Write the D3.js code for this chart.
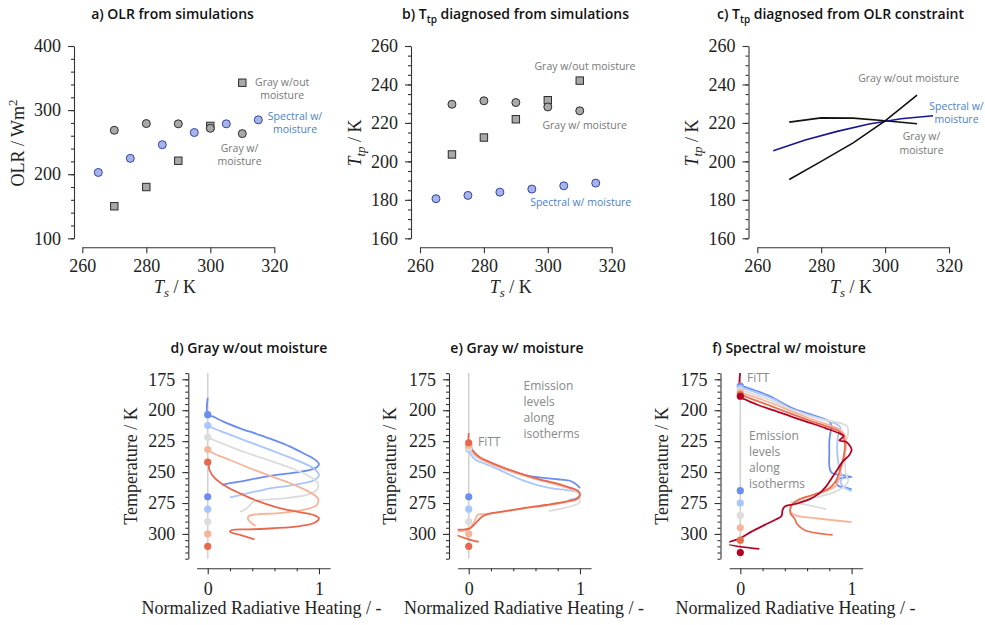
<!DOCTYPE html>
<html>
<head>
<meta charset="utf-8">
<script src="https://cdn.jsdelivr.net/npm/d3@7/dist/d3.min.js"></script>
<style>
  body { margin: 0; background: #fff; }
  svg { display: block; background: #fff; }
  .tick text { font-family: "Liberation Serif", serif; font-size: 18px; fill: #222; }
  .tick line, .domain { stroke: #333; stroke-width: 1.1; }
  .title { font-family: "Open Sans", sans-serif; font-weight: 600; font-size: 14px; fill: #111; }
  .axlab { font-family: "Liberation Serif", serif; font-size: 18px; fill: #222; }
  .note { font-family: "Open Sans", sans-serif; font-size: 10.5px; fill: #777; }
  .note2 { font-family: "Open Sans", sans-serif; font-size: 12px; fill: #888; }
</style>
</head>
<body>
<svg id="fig" width="985" height="625"></svg>
<script>
// ---- Surface temperatures of the simulations ----
const tsGray = [270, 280, 290, 300, 310];
const tsSpectral = [265, 275, 285, 295, 305, 315];

// ---- a) OLR from simulations (W m^-2) ----
const olrGrayDry = [150, 180, 221, 275.3, 342.7];
const olrGrayMoist = [268.5, 279, 278.6, 271.6, 263.3];
const olrSpectral = [202.7, 224.7, 246, 265, 278.6, 284.8];

// ---- b) Ttp diagnosed from simulations (K) ----
const ttpGrayDry = [203.6, 212.4, 221.9, 231.8, 242];
const ttpGrayMoist = [229.7, 231.5, 230.6, 228.3, 226.3];
const ttpSpectral = [180.6, 182.3, 184, 185.6, 187.3, 188.7];

// ---- c) Ttp diagnosed from OLR constraint (K) ----
const ttpOlrGrayDry = [190.6, 200, 209.6, 221.1, 234.4];
const ttpOlrGrayMoist = [220.4, 222.6, 222.5, 221.1, 219.6];
const ttpOlrSpectral = [205.5, 211.1, 215.6, 219.4, 222.2, 223.7];

// ---- tick values ----
const tsTicks = [260, 280, 300, 320];
const olrTicks = [100, 200, 300, 400];
const ttpTicks = [160, 180, 200, 220, 240, 260];
const tempTicks = [175, 200, 225, 250, 275, 300];
const heatTicks = [0, 1];
const heatMinor = [0.2, 0.4, 0.6, 0.8];

// ---- colours per surface temperature ----
const grayColors = ["#6b8df0", "#a9c6fc", "#dcdcdc", "#f6b59b", "#e8684e"];
const spectralColors = ["#6b8df0", "#a9c6fc", "#dcdcdc", "#f6b59b", "#e8704f", "#b40426"];

// ---- d) normalized radiative heating, gray w/out moisture: [heating, T] ----
const heatDry270 = [[0,190],[0,203.6],[0.05,205.2],[0.14,209.2],[0.29,214.6],[0.44,219.2],[0.59,224],[0.74,229.4],[0.86,234.8],[0.96,239.7],[1.0,243.5],[0.98,246.1],[0.92,248.3],[0.8,250.2],[0.62,252.3],[0.44,255],[0.29,257.7],[0.2,259],[0.13,260.4]];
const heatDry280 = [[0,212.4],[0.05,214.6],[0.17,218.7],[0.32,224],[0.5,230],[0.68,236.2],[0.83,241.6],[0.95,246.9],[1.0,252.3],[0.96,256.4],[0.86,259],[0.68,261.8],[0.56,263.1],[0.5,264.4],[0.38,266.6],[0.26,269.3],[0.2,270.4]];
const heatDry290 = [[0,221.9],[0.05,224],[0.2,229.4],[0.38,235.4],[0.56,240.8],[0.74,246.4],[0.89,252.3],[0.99,259],[0.98,264.4],[0.89,268.5],[0.68,271.2],[0.5,272.5],[0.41,273.9],[0.38,276.6],[0.34,280.1],[0.29,282]];
const heatDry300 = [[0,231.8],[0.05,234.8],[0.2,240.2],[0.38,246.9],[0.56,253.1],[0.74,259],[0.89,265],[0.99,271.2],[0.98,276.6],[0.86,280.6],[0.62,283.3],[0.44,284.1],[0.37,285.5],[0.36,287.4],[0.38,290.1],[0.43,293.6]];
const heatDry310 = [[0,242],[0.01,245],[0.015,248.3],[0.066,255],[0.17,261.8],[0.29,267.2],[0.44,273.1],[0.62,278.5],[0.8,282],[0.95,284.6],[1.0,287.4],[0.96,290.9],[0.83,293.6],[0.59,295.4],[0.38,296.3],[0.22,296.8],[0.2,298.1],[0.29,300.8],[0.42,304.3]];

// ---- e) gray w/ moisture ----
const heatMoist270 = [[0,229.7],[0.02,233],[0.07,237.5],[0.17,242],[0.33,248],[0.5,252.5],[0.69,254.8],[0.8,255.8],[0.9,256.8],[0.95,258.8],[0.98,261],[1.0,263]];
const heatMoist280 = [[0,231.5],[0.02,236],[0.06,240],[0.18,244.5],[0.33,250.5],[0.48,256.5],[0.62,260.5],[0.75,263.2],[0.88,264.5],[0.97,266],[1.0,268],[0.97,271],[0.9,272.5]];
const heatMoist290 = [[0,230.6],[0.02,233.5],[0.05,236.5],[0.1,239.8],[0.18,243],[0.33,248.2],[0.48,252.6],[0.63,256.5],[0.78,260],[0.9,263.2],[0.98,266],[1.0,268.5],[0.99,271],[1.0,274.3],[0.72,281.6]];
const heatMoist300 = [[0,228.3],[0.02,231.5],[0.05,235],[0.1,238.8],[0.18,242.3],[0.33,247.6],[0.48,252],[0.63,256],[0.78,259.5],[0.9,262.8],[0.98,265.5],[1.0,268],[0.98,271.5],[0.87,274.2],[0.69,277],[0.48,279.6],[0.3,282.2],[0.15,284],[0.08,284.5],[0.07,286],[0.05,290],[0.03,293],[0,296],[-0.05,297.5],[-0.1,298]];
const heatMoist310 = [[0,218.5],[0,226.3],[0.02,230],[0.05,234],[0.1,238],[0.18,241.5],[0.33,247],[0.48,251.6],[0.63,255.6],[0.78,259],[0.9,262.3],[0.98,265],[1.0,267.7],[0.98,271.2],[0.87,273.9],[0.69,276.6],[0.48,279.3],[0.3,282],[0.18,283.8],[0.12,286],[0.06,291.4],[0.01,295.5],[-0.05,296.5],[-0.13,297],[-0.13,299.5],[0.09,306.5]];

// ---- f) spectral w/ moisture ----
const heatSpec265 = [[0,180.6],[0.03,181],[0.1,183],[0.25,188],[0.46,198],[0.62,203],[0.74,206.5],[0.8,209],[0.82,213],[0.81,218],[0.8,225],[0.8,235],[0.8,245],[0.82,250.5],[0.95,253],[1.0,254],[0.9,255],[0.86,257],[0.88,261],[0.95,262.5],[1.0,264]];
const heatSpec275 = [[0,182.3],[0.05,183],[0.15,186],[0.3,191],[0.46,199],[0.62,204],[0.76,208],[0.86,211],[0.9,214],[0.88,220],[0.87,230],[0.88,242],[0.9,250],[0.92,254],[0.9,258],[0.93,262],[1.0,265.5]];
const heatSpec285 = [[0,184],[0.05,185],[0.15,188],[0.3,193],[0.46,199.5],[0.62,204.5],[0.77,208],[0.9,210.5],[0.96,213],[0.97,218],[0.95,226],[0.94,240],[0.95,252],[0.97,257],[0.93,262],[0.85,266],[0.7,270],[0.55,273],[0.45,274.5],[0.6,276.5],[0.77,280]];
const heatSpec295 = [[0,185.6],[0.05,187],[0.15,190],[0.3,195],[0.46,201],[0.62,206.5],[0.77,211],[0.88,215],[0.93,219],[0.95,225],[0.94,235],[0.91,245],[0.89,254],[0.86,261],[0.75,266],[0.6,270],[0.5,273.5],[0.46,277],[0.45,282],[0.5,285],[0.7,287.5],[1.0,290.5]];
const heatSpec305 = [[0,187.3],[0.05,189],[0.15,192.5],[0.3,197.5],[0.46,203],[0.62,208.3],[0.77,212.8],[0.88,216.5],[0.92,220],[0.94,227],[0.93,237],[0.9,247],[0.86,257],[0.8,263],[0.65,268.5],[0.52,272.5],[0.46,277],[0.45,283],[0.49,288],[0.51,292],[0.58,297],[0.83,300.8]];
const heatSpec315 = [[0,168],[0,188.7],[0.04,191.2],[0.16,195.8],[0.31,200.4],[0.46,205.2],[0.62,210],[0.77,214.6],[0.89,218.7],[0.93,220.8],[0.89,224.5],[0.95,225.5],[1.0,231.6],[0.98,236.2],[0.92,241.5],[0.87,248.3],[0.83,253.7],[0.77,261.8],[0.71,267.2],[0.62,272],[0.49,275.8],[0.4,277.9],[0.38,280.6],[0.37,285.5],[0.31,288.7],[0.22,292.7],[0.1,298.1],[0,303.5],[-0.12,307.6],[0.17,312]];

const svg = d3.select("#fig");

// ---------- helpers ----------
function leftAxis(scale, x, majors, minors) {
  if (minors) {
    svg.append("g").attr("transform", `translate(${x},0)`)
      .call(d3.axisLeft(scale).tickValues(minors).tickSize(3).tickFormat(""))
      .call(g => g.select(".domain").remove());
  }
  svg.append("g").attr("transform", `translate(${x},0)`)
    .call(d3.axisLeft(scale).tickValues(majors).tickSize(6).tickPadding(7).tickSizeOuter(0).tickFormat(d3.format("d")));
}
function bottomAxis(scale, y, majors, minors, pad) {
  if (minors) {
    svg.append("g").attr("transform", `translate(0,${y})`)
      .call(d3.axisBottom(scale).tickValues(minors).tickSize(3).tickFormat(""))
      .call(g => g.select(".domain").remove());
  }
  svg.append("g").attr("transform", `translate(0,${y})`)
    .call(d3.axisBottom(scale).tickValues(majors).tickSize(6).tickPadding(pad).tickSizeOuter(0).tickFormat(d3.format("d")));
}
function title(x, parts) {
  const t = svg.append("text").attr("class", "title").attr("x", x).attr("y", 19).attr("text-anchor", "middle");
  parts(t);
}
function noteLines(cls, x, y0, dy, lines, color) {
  const t = svg.append("text").attr("class", cls).attr("text-anchor", "middle");
  if (color) t.style("fill", color);
  lines.forEach((s, i) => t.append("tspan").attr("x", x).attr("y", y0 + i * dy).text(s));
}
function ttpLabel(x, y) {
  const t = svg.append("text").attr("class", "axlab").attr("text-anchor", "middle")
    .attr("transform", `translate(${x},${y}) rotate(-90)`);
  t.append("tspan").style("font-style", "italic").text("T");
  t.append("tspan").style("font-style", "italic").style("font-size", "13px").attr("dy", 4).text("tp");
  t.append("tspan").attr("dy", -4).text(" / K");
}
function tsLabel(x, y) {
  const t = svg.append("text").attr("class", "axlab").attr("x", x).attr("y", y).attr("text-anchor", "middle");
  t.append("tspan").style("font-style", "italic").text("T");
  t.append("tspan").style("font-style", "italic").style("font-size", "13px").attr("dy", 4).text("s");
  t.append("tspan").attr("dy", -4).text(" / K");
}
function square(g, xs, ys, sx, sy) {
  const s = 7.4;
  g.selectAll(null).data(xs).join("rect")
    .attr("x", (d, i) => sx(d) - s / 2).attr("y", (d, i) => sy(ys[i]) - s / 2)
    .attr("width", s).attr("height", s)
    .attr("fill", "#a9a9a9").attr("stroke", "#2b2b2b").attr("stroke-width", 1);
}
function circles(g, xs, ys, sx, sy, fill, stroke) {
  g.selectAll(null).data(xs).join("circle")
    .attr("cx", d => sx(d)).attr("cy", (d, i) => sy(ys[i])).attr("r", 4)
    .attr("fill", fill).attr("stroke", stroke).attr("stroke-width", 1);
}

// ---------- top row ----------
const yTopRange = [238.3, 46];
const xSpineTop = 247.3;

// a) OLR
const xA = d3.scaleLinear().domain([260, 320]).range([82.3, 274.3]);
const yA = d3.scaleLinear().domain([100, 400]).range(yTopRange);
leftAxis(yA, 74, olrTicks, d3.range(100, 401, 20));
bottomAxis(xA, xSpineTop, tsTicks, null, 6);
const gA = svg.append("g");
square(gA, tsGray, olrGrayDry, xA, yA);
circles(gA, tsGray, olrGrayMoist, xA, yA, "#a9a9a9", "#2b2b2b");
circles(gA, tsSpectral, olrSpectral, xA, yA, "#a6b4e6", "#3441a8");
title(172.5, t => t.text("a) OLR from simulations"));
noteLines("note", 282.2, 85.7, 12.8, ["Gray w/out", "moisture"]);
noteLines("note", 295, 119.5, 13.2, ["Spectral w/", "moisture"], "#4a82c6");
noteLines("note", 239.5, 151.7, 13.3, ["Gray w/", "moisture"]);
{
  const t = svg.append("text").attr("class", "axlab").attr("text-anchor", "middle")
    .attr("transform", "translate(24,143) rotate(-90)");
  t.append("tspan").text("OLR / Wm");
  t.append("tspan").style("font-size", "13px").attr("dy", -7).text("2");
}
tsLabel(175, 293);

// b) Ttp from simulations
const xB = d3.scaleLinear().domain([260, 320]).range([420, 611.7]);
const yB = d3.scaleLinear().domain([160, 260]).range(yTopRange);
leftAxis(yB, 411, ttpTicks, d3.range(160, 261, 5));
bottomAxis(xB, xSpineTop, tsTicks, null, 6);
const gB = svg.append("g");
square(gB, tsGray, ttpGrayDry, xB, yB);
circles(gB, tsGray, ttpGrayMoist, xB, yB, "#a9a9a9", "#2b2b2b");
circles(gB, tsSpectral, ttpSpectral, xB, yB, "#a6b4e6", "#3441a8");
title(515.5, t => {
  t.append("tspan").text("b) T");
  t.append("tspan").style("font-size", "10px").attr("dy", 4).text("tp");
  t.append("tspan").attr("dy", -4).text(" diagnosed from simulations");
});
noteLines("note", 585, 70, 0, ["Gray w/out moisture"]);
noteLines("note", 584.7, 129.3, 0, ["Gray w/ moisture"]);
noteLines("note", 580.7, 206, 0, ["Spectral w/ moisture"], "#4a82c6");
ttpLabel(361, 143);
tsLabel(510.7, 293);

// c) Ttp from OLR constraint
const xC = d3.scaleLinear().domain([260, 320]).range([757.3, 949]);
const yC = d3.scaleLinear().domain([160, 260]).range(yTopRange);
leftAxis(yC, 748.5, ttpTicks, d3.range(160, 261, 5));
bottomAxis(xC, xSpineTop, tsTicks, null, 6);
const lineC = (xs) => d3.line().x((d, i) => xC(xs[i])).y(d => yC(d));
svg.append("path").attr("d", lineC(tsGray)(ttpOlrGrayMoist)).attr("fill", "none").attr("stroke", "#111").attr("stroke-width", 1.6);
svg.append("path").attr("d", lineC(tsSpectral)(ttpOlrSpectral)).attr("fill", "none").attr("stroke", "#16168f").attr("stroke-width", 1.6);
svg.append("path").attr("d", lineC(tsGray)(ttpOlrGrayDry)).attr("fill", "none").attr("stroke", "#111").attr("stroke-width", 1.6);
title(840.5, t => {
  t.append("tspan").text("c) T");
  t.append("tspan").style("font-size", "10px").attr("dy", 4).text("tp");
  t.append("tspan").attr("dy", -4).text(" diagnosed from OLR constraint");
});
noteLines("note", 908.7, 82, 0, ["Gray w/out moisture"]);
noteLines("note", 956.5, 109.5, 13.5, ["Spectral w/", "moisture"], "#4a82c6");
noteLines("note", 921.5, 140.3, 13.8, ["Gray w/", "moisture"]);
ttpLabel(698, 143);
tsLabel(851, 293);

// ---------- bottom row: normalized heating profiles ----------
const yBotRange = [373.1, 558.7];
const xSpineBot = 568.3;
const yT = d3.scaleLinear().domain([170, 320]).range(yBotRange);

function profilePanel(id, xRange, ySpineX, ttp, curves, colors, ts) {
  const sx = d3.scaleLinear().domain([-0.1, 1.1]).range(xRange);
  leftAxis(yT, ySpineX, tempTicks, d3.range(170, 321, 5));
  bottomAxis(sx, xSpineBot, heatTicks, heatMinor, 8);
  svg.append("clipPath").attr("id", id).append("rect")
    .attr("x", xRange[0]).attr("y", yBotRange[0])
    .attr("width", xRange[1] - xRange[0]).attr("height", yBotRange[1] - yBotRange[0]);
  const g = svg.append("g").attr("clip-path", `url(#${id})`);
  g.append("line").attr("x1", sx(0)).attr("x2", sx(0))
    .attr("y1", yT(170)).attr("y2", yT(320)).attr("stroke", "#d2d2d2").attr("stroke-width", 1.6);
  const line = d3.line().x(d => sx(d[0])).y(d => yT(d[1])).curve(d3.curveCatmullRom.alpha(0.5));
  curves.forEach((c, i) => {
    g.append("path").attr("d", line(c)).attr("fill", "none")
      .attr("stroke", colors[i]).attr("stroke-width", 1.8).attr("stroke-linejoin", "round");
  });
  ts.forEach((t, i) => {
    g.append("circle").attr("cx", sx(0)).attr("cy", yT(ttp[i])).attr("r", 3.6).attr("fill", colors[i]);
    g.append("circle").attr("cx", sx(0)).attr("cy", yT(t)).attr("r", 3.6).attr("fill", colors[i]);
  });
  return sx;
}
function bottomLabels(yLabX, xLabX, titleX, titleText) {
  svg.append("text").attr("class", "axlab").attr("text-anchor", "middle")
    .attr("transform", `translate(${yLabX},466) rotate(-90)`).text("Temperature / K");
  svg.append("text").attr("class", "axlab").attr("text-anchor", "middle")
    .attr("x", xLabX).attr("y", 614).text("Normalized Radiative Heating / -");
  svg.append("text").attr("class", "title").attr("text-anchor", "middle")
    .attr("x", titleX).attr("y", 353).text(titleText);
}
function emissionNote(x, y0, dy) {
  const t = svg.append("text").attr("class", "note2");
  ["Emission", "levels", "along", "isotherms"].forEach((s, i) =>
    t.append("tspan").attr("x", x).attr("y", y0 + i * dy).text(s));
}

profilePanel("clipD", [196.6, 330.1], 188.3, ttpGrayDry,
  [heatDry270, heatDry280, heatDry290, heatDry300, heatDry310], grayColors, tsGray);
bottomLabels(137, 261.5, 249, "d) Gray w/out moisture");

profilePanel("clipE", [457.6, 591.1], 449, ttpGrayMoist,
  [heatMoist270, heatMoist280, heatMoist290, heatMoist300, heatMoist310], grayColors, tsGray);
bottomLabels(396, 524, 517, "e) Gray w/ moisture");
svg.append("text").attr("class", "note2").attr("x", 478).attr("y", 446).text("FiTT");
emissionNote(523.5, 389.5, 16);

profilePanel("clipF", [729.2, 862.7], 720.5, ttpSpectral,
  [heatSpec265, heatSpec275, heatSpec285, heatSpec295, heatSpec305, heatSpec315], spectralColors, tsSpectral);
bottomLabels(668, 795.5, 789, "f) Spectral w/ moisture");
svg.append("text").attr("class", "note2").attr("x", 747).attr("y", 382).text("FiTT");
emissionNote(749, 440, 15.9);
</script>
</body>
</html>
